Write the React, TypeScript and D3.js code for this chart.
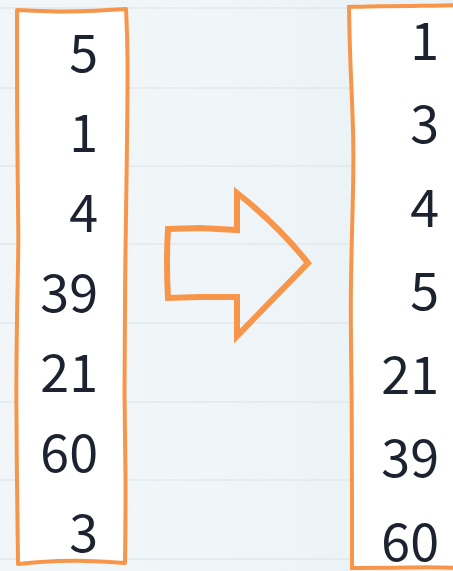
import * as d3 from 'd3';

const unsortedValues = [5, 1, 4, 39, 21, 60, 3];
const sortedValues = [1, 3, 4, 5, 21, 39, 60];
const gridRows = [8, 88, 166, 244, 323, 402, 480, 559];

const W = 453;
const H = 571;
const ORANGE = '#f7964a';

// basis curve; corners repeated three times so they stay sharp
const sketch = d3.line().curve(d3.curveBasis);
const corner = (p: [number, number]): [number, number][] => [p, p, p];

export default function App() {
  const idx = unsortedValues.map((_, i) => i);
  const yLeft = d3.scalePoint<number>().domain(idx).range([49, 529]);
  const yRight = d3.scalePoint<number>().domain(idx).range([37, 538]);

  const lx0 = 17, lx1 = 127, ly0 = 10, ly1 = 563;
  const leftPts: [number, number][] = [
    ...corner([lx0, ly0]), [lx0 + 40, ly0 + 2], [lx0 + 80, ly0 + 1],
    ...corner([lx1 - 1, ly0 - 1]), [lx1 + 1, ly0 + 40], [lx1, 150], [lx1 - 2, 280], [lx1 - 3, 400], [lx1 - 1, 480],
    ...corner([lx1 - 2, ly1]), [lx1 - 50, ly1 - 3], [lx0 + 20, ly1 - 1],
    ...corner([lx0 + 1, ly1 + 1]), [lx0, 480], [lx0 - 1, 400], [lx0, 300], [lx0 + 2, 240], [lx0, 150],
    ...corner([lx0, ly0]),
  ];
  const leftBox = sketch(leftPts) + 'Z';

  const rx0 = 351, ry0 = 7, ry1 = 568;
  const rightPts: [number, number][] = [
    ...corner([W + 5, ry0 - 2]), [420, ry0 - 1], [380, ry0 - 1],
    ...corner([rx0 - 2, ry0]), [rx0 - 1, 60], [rx0 + 3, 140], [rx0 + 2, 200], [rx0 - 1, 300], [rx0 + 1, 400], [rx0 + 1, 500],
    ...corner([rx0 + 1, ry1]), [390, ry1], [430, ry1 - 1], ...corner([W + 5, ry1]),
  ];
  const rightBox = sketch(rightPts) || '';

  const arrow =
    'M168,229L200,228L237,230L237,193Q278,225 308,263Q272,300 237,336' +
    'L237,297L200,297L168,298Q166,263 168,229Z';

  return (
    <svg width={W} height={H} style={{ position: 'absolute', left: 0, top: 0 }}
      fontFamily="'Noto Sans CJK SC', sans-serif">
      <defs>
        <linearGradient id="bg" x1="0" x2="1" y1="0" y2="0">
          <stop offset="0" stopColor="#f2f6f9" />
          <stop offset="0.5" stopColor="#eff5f8" />
          <stop offset="1" stopColor="#eaf2f5" />
        </linearGradient>
      </defs>
      <rect width={W} height={H} fill="url(#bg)" />
      {gridRows.map((y) => (
        <line key={y} x1={0} x2={W} y1={y} y2={y} stroke="#e1e8ec" strokeWidth={1.5} />
      ))}

      <path d={leftBox} fill="#ffffff" stroke={ORANGE} strokeWidth={4} strokeLinejoin="round" />
      <path d={rightBox + 'Z'} fill="#ffffff" stroke="none" />
      <path d={rightBox} fill="none" stroke={ORANGE} strokeWidth={4} strokeLinecap="round" />

      <path d={arrow} fill="none" stroke={ORANGE} strokeWidth={6} strokeLinejoin="miter" />

      {unsortedValues.map((v, i) => (
        <text key={'l' + i} x={98} y={yLeft(i)} textAnchor="end" dominantBaseline="central"
          fontSize={52} fill="#1c2230">{v}</text>
      ))}
      {sortedValues.map((v, i) => (
        <text key={'r' + i} x={439} y={yRight(i)} textAnchor="end" dominantBaseline="central"
          fontSize={52} fill="#1c2230">{v}</text>
      ))}
    </svg>
  );
}
